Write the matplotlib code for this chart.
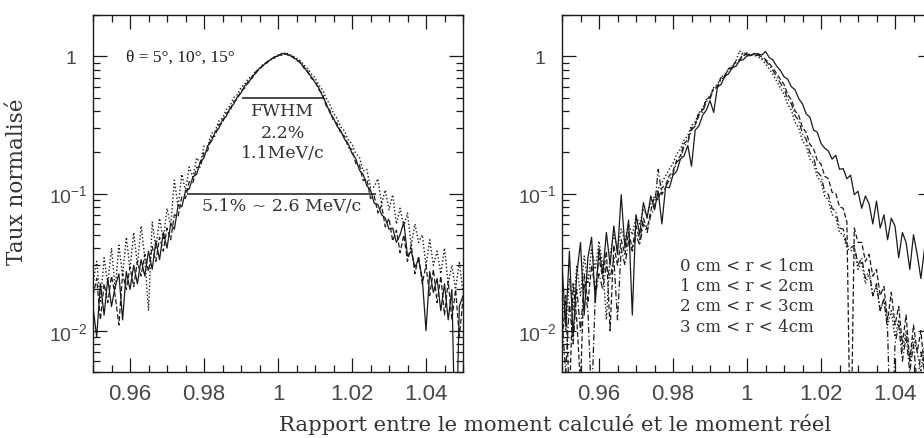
import matplotlib.pyplot as plt
import numpy as np
from matplotlib.ticker import LogLocator, MultipleLocator, NullFormatter

# Bin centres of the momentum ratio histograms (bins 0.001 wide)
ratio = np.linspace(0.950, 1.050, 101)

# Normalised rates x 1000, one histogram per polar angle
theta_5 = [15, 9, 22, 13, 24, 15, 21, 26, 12, 27,
           20, 30, 22, 33, 25, 38, 28, 45, 33, 52,
           40, 60, 55, 82, 80, 104, 108, 132, 138, 170,
           182, 222, 240, 280, 298, 345, 365, 418, 448, 505,
           540, 608, 640, 712, 752, 818, 855, 912, 940, 992,
           1005, 1050, 1035, 1025, 980, 950, 895, 840, 765, 710,
           645, 590, 515, 455, 388, 355, 308, 286, 248, 230,
           196, 180, 148, 138, 114, 106, 85, 83, 70, 66,
           55, 56, 44, 50, 62, 35, 38, 29, 33, 24,
           10, 27, 19, 24, 14, 22, 12, 20, 1, 15, 18]
theta_10 = [18, 24, 12, 22, 16, 25, 18, 11, 26, 20,
            29, 21, 32, 25, 36, 27, 41, 32, 48, 38,
            56, 46, 70, 68, 95, 92, 122, 120, 155, 156,
            200, 205, 258, 262, 318, 326, 386, 396, 468, 486,
            562, 586, 660, 692, 772, 796, 874, 892, 958, 972,
            1022, 1026, 1052, 1006, 998, 930, 912, 820, 784, 690,
            664, 570, 534, 436, 404, 338, 324, 272, 262, 216,
            210, 166, 162, 124, 128, 92, 96, 72, 82, 57,
            66, 45, 54, 37, 50, 32, 42, 26, 35, 22,
            30, 18, 28, 16, 25, 13, 23, 12, 20, 9, 17]
theta_15 = [22, 32, 16, 34, 22, 40, 20, 42, 25, 48,
            28, 52, 30, 58, 34, 14, 62, 40, 66, 46,
            78, 58, 125, 80, 138, 104, 156, 132, 182, 166,
            222, 222, 275, 284, 338, 354, 408, 434, 498, 524,
            592, 624, 688, 718, 782, 814, 876, 904, 950, 970,
            1004, 1020, 1064, 1030, 1010, 960, 930, 865, 815, 745,
            696, 620, 570, 495, 445, 385, 350, 305, 285, 245,
            230, 196, 184, 146, 150, 110, 112, 128, 84, 106,
            76, 98, 60, 78, 58, 72, 42, 60, 44, 50,
            30, 46, 30, 38, 26, 40, 22, 30, 20, 32, 19]

# Normalised rates x 1000, one histogram per radial slice
r_0_1 = [30, 11, 38, 9, 26, 44, 13, 34, 48, 16,
         40, 26, 52, 30, 58, 36, 98, 40, 64, 13,
         70, 50, 86, 66, 96, 76, 104, 60, 112, 110,
         136, 145, 178, 188, 224, 158, 290, 310, 372, 405,
         475, 390, 595, 625, 715, 745, 825, 845, 935, 945,
         1005, 1015, 1040, 1045, 1020, 1085, 980, 940, 850, 790,
         710, 680, 600, 570, 490, 450, 380, 360, 290, 280,
         232, 214, 204, 178, 190, 150, 152, 128, 136, 98,
         104, 78, 96, 84, 60, 88, 56, 70, 46, 66,
         58, 34, 52, 44, 28, 50, 36, 24, 40, 30, 27]
r_1_2 = [8, 18, 3, 22, 12, 4, 26, 16, 30, 20,
         34, 24, 38, 10, 42, 30, 46, 36, 52, 40,
         58, 46, 66, 55, 75, 95, 90, 110, 115, 135,
         145, 175, 188, 232, 246, 300, 318, 384, 405, 484,
         505, 588, 602, 700, 722, 812, 832, 920, 945, 1015,
         1040, 1010, 1050, 1020, 990, 950, 890, 820, 750, 680,
         625, 528, 482, 400, 370, 302, 278, 228, 212, 174,
         164, 134, 128, 102, 100, 80, 78, 62, 1, 56,
         44, 44, 32, 36, 25, 28, 18, 21, 12, 19,
         11, 15, 8, 13, 6, 11, 7, 10, 5, 9, 6]
r_2_3 = [12, 5, 16, 8, 20, 10, 22, 14, 3, 18,
         26, 20, 30, 24, 34, 12, 40, 30, 45, 38,
         50, 42, 60, 52, 70, 78, 150, 98, 112, 125,
         140, 170, 178, 222, 236, 290, 310, 372, 392, 468,
         490, 575, 595, 680, 705, 795, 815, 895, 925, 1080,
         1020, 1050, 1000, 1030, 970, 930, 860, 790, 710, 640,
         580, 490, 450, 370, 340, 272, 248, 198, 182, 144,
         134, 104, 98, 78, 74, 56, 55, 42, 40, 42,
         30, 34, 24, 28, 18, 22, 14, 17, 10, 1,
         8, 11, 6, 9, 5, 8, 4, 7, 5, 6, 4]
r_3_4 = [20, 10, 24, 14, 30, 18, 35, 22, 40, 28,
         45, 30, 12, 36, 50, 40, 55, 45, 60, 50,
         68, 60, 76, 70, 85, 95, 108, 120, 135, 150,
         166, 194, 210, 246, 264, 312, 334, 388, 418, 484,
         515, 592, 625, 702, 735, 812, 848, 922, 1100, 1000,
         1060, 1020, 1040, 990, 950, 880, 810, 740, 660, 590,
         530, 445, 405, 330, 298, 242, 222, 178, 166, 132,
         122, 96, 90, 70, 67, 52, 50, 40, 38, 40,
         28, 32, 22, 26, 18, 21, 14, 17, 11, 14,
         9, 12, 7, 10, 6, 9, 7, 5, 8, 6, 5]

theta_label = "θ = 5°, 10°, 15°"
radius_labels = ["0 cm < r < 1cm", "1 cm < r < 2cm",
                 "2 cm < r < 3cm", "3 cm < r < 4cm"]
radius_label_y = [0.0299, 0.0214, 0.0153, 0.0108]

# Resolution marks on the left plot: centre and relative width
fwhm_centre, fwhm_width, fwhm_level = 1.0013, 0.022, 0.5
tenth_centre, tenth_width, tenth_level = 1.001, 0.051, 0.1

y_ticks = [0.01, 0.1, 1]
y_ticklabels = [r"$\mathregular{10^{-2}}$", r"$\mathregular{10^{-1}}$", "1  "]

styles = [dict(ls="-", lw=0.9), dict(ls=(0, (4, 2)), lw=0.9),
          dict(ls=(0, (5, 2, 1, 2)), lw=0.9), dict(ls=(0, (1, 1.6)), lw=1.0)]

serif = "DejaVu Serif"
ink = "#1a1a1a"
text_ink = "#333333"


def setup_axes(ax):
    ax.set_yscale("log")
    ax.set_xlim(0.95, 1.05)
    ax.set_ylim(0.005, 2)
    ax.xaxis.set_major_locator(MultipleLocator(0.02))
    ax.xaxis.set_minor_locator(MultipleLocator(0.005))
    ax.set_xticks([0.96, 0.98, 1.0, 1.02, 1.04])
    ax.set_xticklabels(["0.96", "0.98", "1", "1.02", "1.04"])
    ax.set_yticks(y_ticks)
    ax.set_yticklabels(y_ticklabels)
    ax.yaxis.set_minor_locator(LogLocator(base=10, subs=np.arange(2, 10)))
    ax.yaxis.set_minor_formatter(NullFormatter())
    ax.tick_params(which="both", direction="in", top=True, right=True,
                   color=ink, width=0.9)
    ax.tick_params(which="major", length=10)
    ax.tick_params(which="minor", length=5)
    ax.tick_params(axis="x", pad=8, labelsize=16, labelcolor="#484848")
    ax.tick_params(axis="y", pad=4, labelsize=14, labelcolor="#484848")
    for lab in ax.get_xticklabels() + ax.get_yticklabels():
        lab.set_family("Liberation Sans")
    for sp in ax.spines.values():
        sp.set_linewidth(1.0)
        sp.set_color(ink)


fig = plt.figure(figsize=(9.24, 4.39), dpi=100)
ax1 = fig.add_axes([93 / 924, 66 / 439, 370 / 924, 357 / 439])
ax2 = fig.add_axes([562 / 924, 66 / 439, 370 / 924, 357 / 439])

# Left: three polar angles
for vals, st in zip([theta_5, theta_10, theta_15], [styles[0], styles[1], styles[3]]):
    ax1.plot(ratio, np.array(vals) / 1000, color=ink, **st)
setup_axes(ax1)

ax1.hlines(fwhm_level, fwhm_centre - fwhm_width / 2, fwhm_centre + fwhm_width / 2,
           color=ink, lw=1.1)
ax1.hlines(tenth_level, tenth_centre - tenth_width / 2, tenth_centre + tenth_width / 2,
           color=ink, lw=1.1)
ax1.text(0.9735, 1.0, theta_label, family="Liberation Serif", fontsize=12.5,
         color=ink, ha="center", va="center")
ax1.text(fwhm_centre, 0.405, "FWHM", family=serif, fontsize=12.5, color=text_ink,
         ha="center", va="center")
ax1.text(fwhm_centre, 0.28, f"{fwhm_width * 100:.1f}%", family=serif, fontsize=12.5,
         color=text_ink, ha="center", va="center")
ax1.text(fwhm_centre, 0.198, "1.1MeV/c", family=serif, fontsize=12.5, color=text_ink,
         ha="center", va="center")
ax1.text(tenth_centre, 0.0814, f"{tenth_width * 100:.1f}% ~ 2.6 MeV/c", family=serif,
         fontsize=12.5, color=text_ink, ha="center", va="center")
ax1.set_ylabel("Taux normalisé", family=serif, fontsize=15.5, color=text_ink)
ax1.yaxis.set_label_coords(-0.175, 0.535)

# Right: four radial slices
for vals, st in zip([r_0_1, r_1_2, r_2_3, r_3_4], styles):
    ax2.plot(ratio, np.array(vals) / 1000, color=ink, **st)
setup_axes(ax2)

for lab, yv in zip(radius_labels, radius_label_y):
    ax2.text(0.9818, yv, lab, family=serif, fontsize=12, color=text_ink,
             ha="left", va="center")

fig.text(555 / 924, 1 - 425 / 439,
         "Rapport entre le moment calculé et le moment réel",
         family=serif, fontsize=15.3, color=text_ink, ha="center", va="center")

fig.savefig("out.png", dpi=100)
